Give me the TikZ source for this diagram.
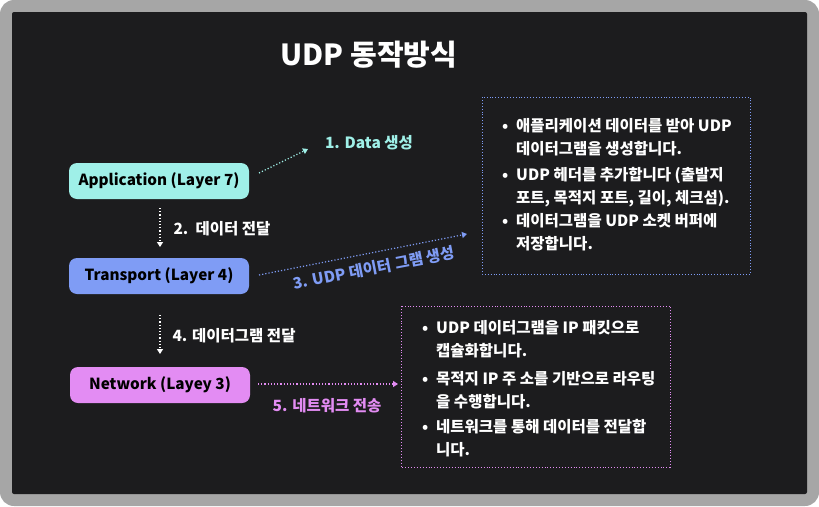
\documentclass[tikz,border=0pt]{standalone}
\usepackage{fontspec}
\setmainfont{Noto Sans CJK KR}[BoldFont={Noto Sans CJK KR Black}]
\usetikzlibrary{arrows.meta}

\definecolor{framegray}{HTML}{A6A6A6}
\definecolor{bgdark}{HTML}{1C1C1E}
\definecolor{appmint}{HTML}{9FF0E8}
\definecolor{transblue}{HTML}{7F9CF5}
\definecolor{netviolet}{HTML}{E38CF3}

\tikzset{
  layer/.style={rounded corners=8pt, minimum width=180pt, minimum height=36pt,
    font=\fontsize{15.3}{18}\selectfont\bfseries, text=black, inner sep=0pt},
  flow/.style={dotted, line width=1.2pt, -{Triangle[length=5pt, width=6pt]}},
  steplabel/.style={font=\fontsize{15.5}{18}\selectfont\bfseries},
  infobox/.style={dotted, line width=0.9pt},
  itemtext/.style={anchor=north west, align=left, text=white, inner sep=0pt,
    font=\fontsize{15.5}{23}\selectfont\bfseries}
}

\newcommand{\bul}{\llap{\textbullet\hspace{8pt}}}

\begin{document}
\begin{tikzpicture}[x=1pt, y=-1pt]

  % -- frame --
  \fill[framegray, rounded corners=14pt] (0,0) rectangle (819,506);
  \fill[bgdark, rounded corners=2pt] (12,12) rectangle (807,494);
  \useasboundingbox (0,0) rectangle (819,506);

  % -- title --
  \node[text=white, font=\fontsize{29}{34}\selectfont\bfseries] (title) at (369,55) {UDP 동작방식};

  % -- layers --
  \node[layer, fill=appmint] (app) at (159,181) {Application (Layer 7)};
  \node[layer, fill=transblue] (trans) at (159,276) {Transport (Layer 4)};
  \node[layer, fill=netviolet] (net) at (160,385) {Network (Layey 3)};

  % -- step 1 --
  \coordinate (s1a) at (259,173);
  \coordinate (s1b) at (308,149);
  \draw[flow, appmint] (s1a) -- (s1b);
  \node[steplabel, text=appmint] (l1) at (369,143) {1. Data 생성};

  % -- step 2 --
  \coordinate (s2a) at (160,208);
  \coordinate (s2b) at (160,247);
  \draw[flow, white] (s2a) -- (s2b);
  \node[steplabel, text=white, anchor=west] (l2) at (170,229) {2.\ \ 데이터 전달};

  % -- step 3 --
  \coordinate (s3a) at (259,275);
  \coordinate (s3b) at (467,234);
  \draw[flow, transblue] (s3a) -- (s3b);
  \node[steplabel, text=transblue, rotate=11] (l3) at (374,268) {3. UDP 데이터 그램 생성};

  % -- transport box --
  \draw[infobox, transblue] (482,97) rectangle (750,274);
  \node[itemtext] (t1) at (516,118) {\bul 애플리케이션 데이터를 받아 UDP\\데이터그램을 생성합니다.};
  \node[itemtext] (t2) at (516,167) {\bul UDP 헤더를 추가합니다 (출발지\\포트, 목적지 포트, 길이, 체크섬).};
  \node[itemtext] (t3) at (516,213) {\bul 데이터그램을 UDP 소켓 버퍼에\\저장합니다.};

  % -- step 4 --
  \coordinate (s4a) at (160,315);
  \coordinate (s4b) at (160,354);
  \draw[flow, white] (s4a) -- (s4b);
  \node[steplabel, text=white, anchor=west] (l4) at (169,336) {4. 데이터그램 전달};

  % -- step 5 --
  \coordinate (s5a) at (258,384);
  \coordinate (s5b) at (398,384);
  \draw[flow, netviolet] (s5a) -- (s5b);
  \node[steplabel, text=netviolet] (l5) at (327,406) {5. 네트워크 전송};

  % -- network box --
  \draw[infobox, netviolet] (401,306) rectangle (670,467);
  \node[itemtext] (n1) at (436,320) {\bul UDP 데이터그램을 IP 패킷으로\\캡슐화합니다.};
  \node[itemtext] (n2) at (436,371) {\bul 목적지 IP 주 소를 기반으로 라우팅\\을 수행합니다.};
  \node[itemtext] (n3) at (436,419) {\bul 네트워크를 통해 데이터를 전달합\\니다.};

\end{tikzpicture}
\end{document}
